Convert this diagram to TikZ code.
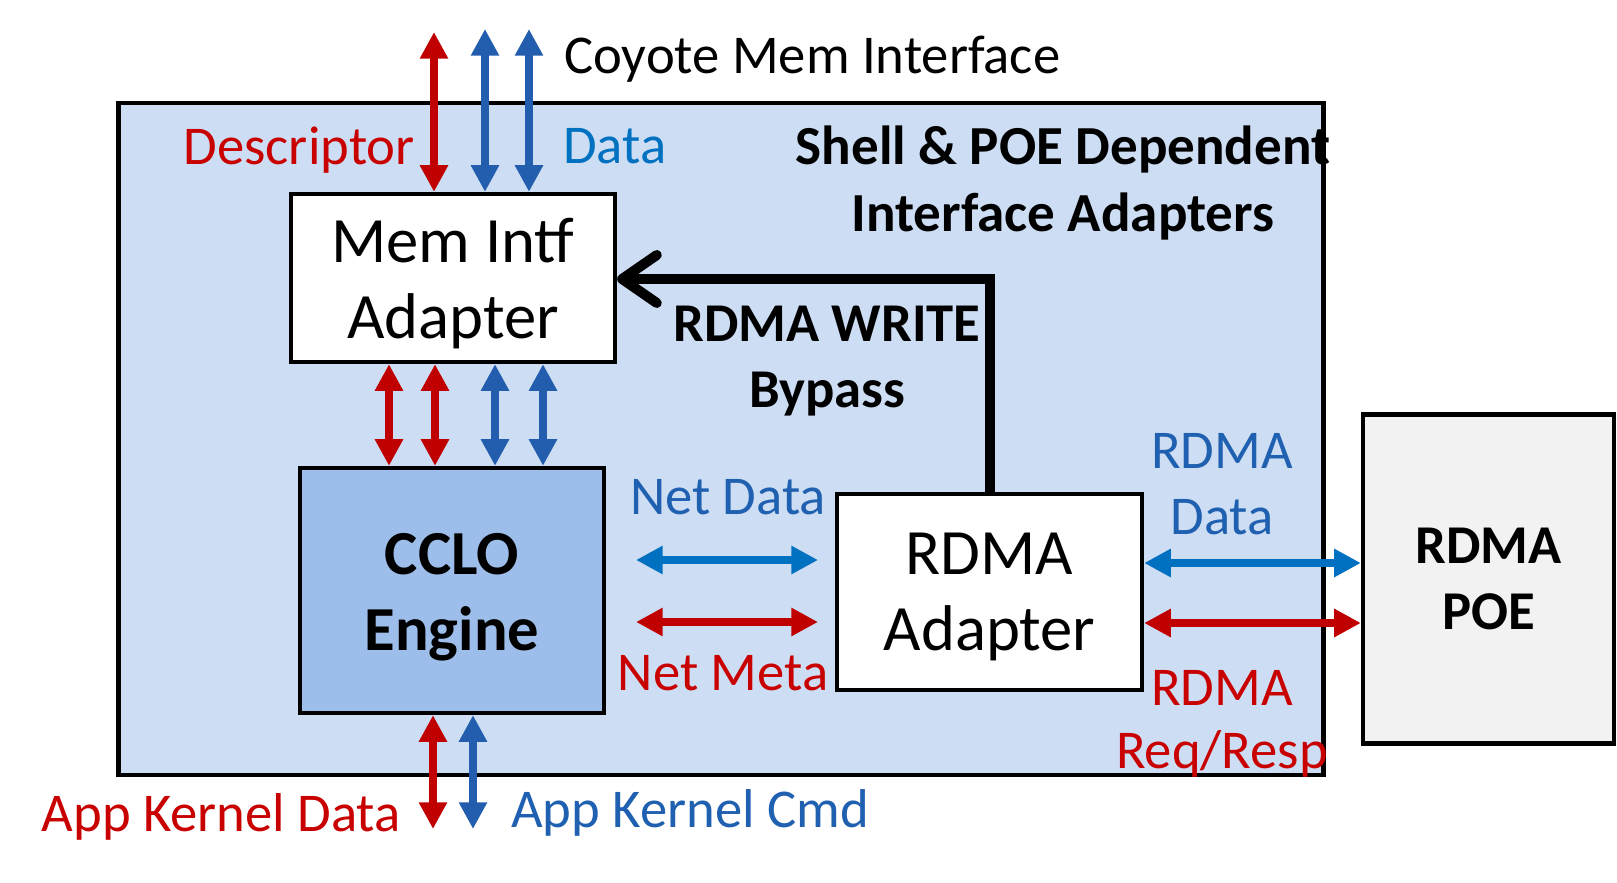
\documentclass[tikz,border=0pt]{standalone}
\usepackage{fontspec}
\setmainfont{Carlito}
\usetikzlibrary{arrows.meta,calc}
\definecolor{outerfill}{HTML}{CDDDF3}
\definecolor{ccfill}{HTML}{9DBEEA}
\definecolor{poefill}{HTML}{F2F2F2}
\definecolor{arrred}{HTML}{C00000}
\definecolor{arrblue}{HTML}{225DAE}
\definecolor{hblue}{HTML}{0070C0}
\definecolor{txtred}{HTML}{C80000}
\definecolor{txtblue}{HTML}{0070C0}
\definecolor{txtblue2}{HTML}{2060B0}
\tikzset{
  box/.style={draw=black, line width=3.2pt, rectangle, inner sep=0pt, align=center},
  lbl/.style={inner sep=0pt, align=center},
  normtxt/.style={font=\fontsize{41pt}{49pt}\selectfont},
  bigtxt/.style={font=\fontsize{48.5pt}{57pt}\selectfont},
  boldtxt/.style={font=\bfseries\fontsize{41pt}{49pt}\selectfont},
  bigbold/.style={font=\bfseries\fontsize{47pt}{57pt}\selectfont},
  darr/.style={line width=6pt, {Triangle[width=20pt,length=20pt]}-{Triangle[width=20pt,length=20pt]}},
  redarr/.style={darr, draw=arrred},
  bluearr/.style={darr, draw=arrblue},
  hbluearr/.style={darr, draw=hblue},
  bypass/.style={draw=black, line width=7.5pt, -{Straight Barb[length=26pt,width=36pt,round]}}
}
\begin{document}
\begin{tikzpicture}[x=0.75pt,y=-0.75pt]
\useasboundingbox (0,0) rectangle (1617,882);
% boxes
\node[box, fill=outerfill, minimum width=1205*0.75pt, minimum height=672*0.75pt] (outer) at (721,439) {};
\node[box, fill=white, minimum width=324*0.75pt, minimum height=168*0.75pt] (mem) at (453,278) {};
\node[lbl, bigtxt] (memtxt) at (453,284) {Mem Intf\\Adapter};
\node[box, fill=ccfill, minimum width=304*0.75pt, minimum height=245*0.75pt] (cclo) at (452,590.5) {};
\node[lbl, bigbold] (cclotxt) at (452,597) {CCLO\\Engine};
\node[box, fill=white, minimum width=305*0.75pt, minimum height=196*0.75pt] (rdma) at (989.5,592) {};
\node[lbl, bigtxt] (rdmatxt) at (989.5,597) {RDMA\\Adapter};
\node[box, fill=poefill, minimum width=251*0.75pt, minimum height=329*0.75pt, boldtxt] (poe) at (1488.5,579) {RDMA\\POE};

% top free ends
\coordinate (t1) at (434,32);
\coordinate (t2) at (485,29);
\coordinate (t3) at (529,29);
\draw[redarr] (t1) -- (t1 |- mem.north);
\draw[bluearr] (t2) -- (t2 |- mem.north);
\draw[bluearr] (t3) -- (t3 |- mem.north);

% mem <-> cclo
\foreach \xx/\st in {389/redarr,435/redarr,495/bluearr,543/bluearr}{
  \draw[\st] (\xx,0 |- mem.south) -- (\xx,0 |- cclo.north);
}

% bottom free ends
\coordinate (b1) at (433,829);
\coordinate (b2) at (473,829);
\draw[redarr] (b1 |- cclo.south) -- (b1);
\draw[bluearr] (b2 |- cclo.south) -- (b2);

% net arrows
\coordinate (nd1) at (636,560);
\coordinate (nd2) at (818,560);
\coordinate (nm1) at (636,622);
\coordinate (nm2) at (818,622);
\draw[hbluearr] (nd1) -- (nd2);
\draw[redarr] (nm1) -- (nm2);

% rdma <-> poe
\draw[hbluearr] (rdma.east |- 0,563) -- (poe.west |- 0,563);
\draw[redarr] (rdma.east |- 0,623) -- (poe.west |- 0,623);

% bypass
\draw[bypass] (990,0 |- rdma.north) -- (990,279) -- (mem.east |- 0,279);

% labels
\node[lbl, normtxt, anchor=west] at (564,59) {Coyote Mem Interface};
\node[lbl, normtxt, text=txtred, anchor=east] at (415,150) {Descriptor};
\node[lbl, normtxt, text=txtblue, anchor=west] at (563,146) {Data};
\node[lbl, font=\bfseries\fontsize{41.3pt}{50pt}\selectfont] at (1063,183) {Shell \& POE Dependent\\Interface Adapters};
\node[lbl, boldtxt] at (827,361) {RDMA WRITE\\Bypass};
\node[lbl, normtxt, text=txtblue2] at (728,497) {Net Data};
\node[lbl, normtxt, text=txtred] at (723,673) {Net Meta};
\node[lbl, normtxt, text=txtblue2] at (1222,484) {RDMA\\Data};
\node[lbl, normtxt, text=txtred] at (1222,688) {RDMA};
\node[lbl, normtxt, text=txtred] at (1222,754) {Req/Resp};
\node[lbl, normtxt, text=txtred, anchor=east] at (401,817) {App Kernel Data};
\node[lbl, normtxt, text=txtblue2, anchor=west] at (511,813) {App Kernel Cmd};
\end{tikzpicture}
\end{document}
